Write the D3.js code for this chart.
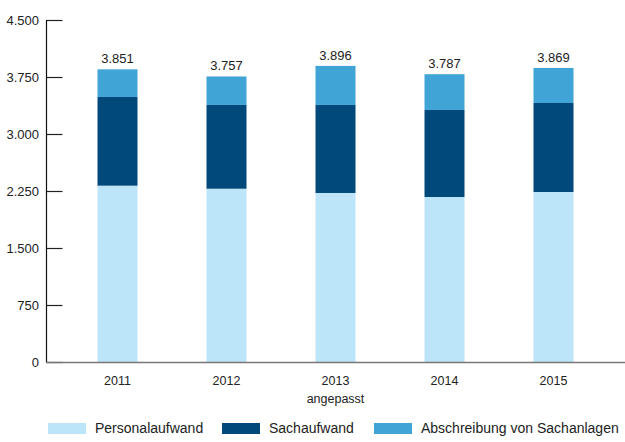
<!DOCTYPE html>
<html><head><meta charset="utf-8">
<script src="https://cdn.jsdelivr.net/npm/d3@7"></script>
<style>body{margin:0;background:#fff}svg{display:block}text{font-family:"Liberation Sans",Arial,sans-serif;fill:#222}</style>
</head><body><svg id="c" width="625" height="442"></svg>
<script>
const categories = ["2011","2012","2013","2014","2015"];
const categorySub = ["","","angepasst","",""];
const personalaufwand = [2320,2280,2224,2171,2237];
const sachaufwand = [1167,1102,1158,1145,1171];
const abschreibung = [364,375,514,471,461];
const totals = ["3.851","3.757","3.896","3.787","3.869"];
const yTicks = [0,750,1500,2250,3000,3750,4500];
const yTickLabels = ["0","750","1.500","2.250","3.000","3.750","4.500"];
const seriesNames = ["Personalaufwand","Sachaufwand","Abschreibung von Sachanlagen"];
const colors = ["#bde5f9","#02497b","#41a4d7"];

const svg = d3.select("#c");
const x = d3.scaleBand().domain(categories).range([63,608]).padding(0);
const y = d3.scaleLinear().domain([0,4500]).range([362,20]);
const barW = 40;

const rows = categories.map((c,i)=>({cat:c, Personalaufwand:personalaufwand[i], Sachaufwand:sachaufwand[i], "Abschreibung von Sachanlagen":abschreibung[i]}));
const stack = d3.stack().keys(seriesNames)(rows);

svg.append("g").selectAll("g").data(stack).join("g").attr("fill",(d,i)=>colors[i])
  .selectAll("rect").data(d=>d).join("rect")
  .attr("x",d=>x(d.data.cat)+x.bandwidth()/2-barW/2)
  .attr("width",barW)
  .attr("y",d=>y(d[1]))
  .attr("height",d=>y(d[0])-y(d[1]));

// totals
svg.append("g").selectAll("text").data(rows).join("text")
  .attr("x",d=>x(d.cat)+x.bandwidth()/2)
  .attr("y",(d,i)=>y(personalaufwand[i]+sachaufwand[i]+abschreibung[i])-6)
  .attr("text-anchor","middle").attr("font-size",13).text((d,i)=>totals[i]);

// y axis
const yAxis = svg.append("g").attr("transform","translate(46.5,0)")
  .call(d3.axisRight(y).tickValues(yTicks).tickSize(16).tickFormat(""));
yAxis.select(".domain").remove();
yAxis.selectAll("line").attr("stroke","#222").attr("stroke-width",1.2);
svg.append("line").attr("x1",46.5).attr("x2",46.5).attr("y1",y(4500)).attr("y2",363).attr("stroke","#111").attr("stroke-width",1.2);
svg.append("g").selectAll("text").data(yTicks).join("text")
  .attr("x",39).attr("y",d=>y(d)).attr("dy","0.35em").attr("text-anchor","end")
  .attr("font-size",13).text((d,i)=>yTickLabels[i]);

// x axis
svg.append("line").attr("x1",46).attr("x2",625).attr("y1",362.5).attr("y2",362.5).attr("stroke","#777").attr("stroke-width",1.5);
const xl = svg.append("g").selectAll("text").data(categories).join("text")
  .attr("x",d=>x(d)+x.bandwidth()/2).attr("y",385).attr("text-anchor","middle").attr("font-size",12.5);
xl.append("tspan").attr("x",d=>x(d)+x.bandwidth()/2).text(d=>d);
xl.append("tspan").attr("x",d=>x(d)+x.bandwidth()/2).attr("dy",18).text((d,i)=>categorySub[i]);

// legend
const legX = [48,222,374];
const lg = svg.append("g").selectAll("g").data(seriesNames).join("g").attr("transform",(d,i)=>`translate(${legX[i]},423)`);
lg.append("rect").attr("width",38).attr("height",11).attr("fill",(d,i)=>colors[i]);
lg.append("text").attr("x",47).attr("y",5.5).attr("dy","0.35em").attr("font-size",14).text(d=>d);
</script></body></html>
